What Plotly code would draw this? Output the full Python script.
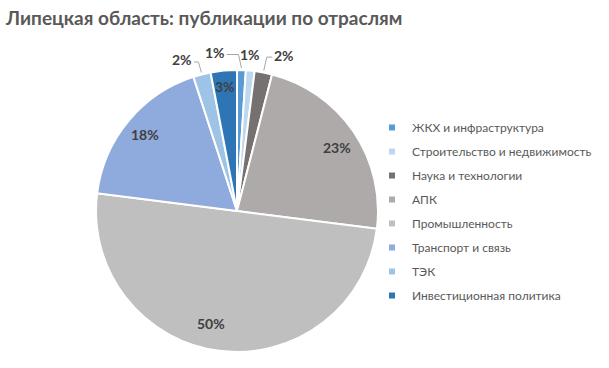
import math
import plotly.graph_objects as go

labels = ["ЖКХ и инфраструктура", "Строительство и недвижимость", "Наука и технологии",
          "АПК", "Промышленность", "Транспорт и связь", "ТЭК", "Инвестиционная политика"]
values = [1, 1, 2, 23, 50, 18, 2, 3]
colors = ["#5B9BD5", "#BDD7EE", "#767171", "#AEAAAA", "#BFBFBF", "#8FAADC", "#9DC3E6", "#2E75B6"]

# label styling: (angle nudge in degrees from slice middle, radius as fraction of R)
inside_style = {"АПК": (2.0, 0.84), "Промышленность": (6.0, 0.82),
                "Транспорт и связь": (0.0, 0.85), "Инвестиционная политика": (0.0, 0.89)}
outside_style = {"ЖКХ и инфраструктура": (-9.8, 1.135), "Строительство и недвижимость": (-0.6, 1.115),
                 "Наука и технологии": (6.0, 1.155), "ТЭК": (-5.6, 1.14)}
leader = {"ЖКХ и инфраструктура": True, "Строительство и недвижимость": False,
          "Наука и технологии": True, "ТЭК": True}

W, H = 609, 368
CX, CY, R = 237, 211, 141          # pie geometry in pixels
FONT = "Lato"


def px(x):
    return x / W


def py(y):
    return 1 - y / H


fig = go.Figure()
fig.add_trace(go.Pie(
    labels=labels, values=values, sort=False, direction="clockwise", rotation=0,
    marker=dict(colors=colors, line=dict(color="white", width=2)),
    textinfo="none", hoverinfo="label+percent", showlegend=False,
    domain=dict(x=[px(CX - R), px(CX + R)], y=[py(CY + R), py(CY - R)]),
))

# legend entries
for lab, col in zip(labels, colors):
    fig.add_trace(go.Scatter(x=[None], y=[None], mode="markers", name=lab,
                             legendgroup=lab,
                             marker=dict(symbol="square", size=6, color=col)))

total = sum(values)
annotations = []
shapes = []
cum = 0.0
for lab, v in zip(labels, values):
    mid = (cum + v / 2) / total * 360.0
    cum += v
    text = f"<b>{round(v / total * 100)}%</b>"
    inside = lab in inside_style
    nudge, rf = inside_style[lab] if inside else outside_style[lab]
    ang = math.radians(mid + nudge)
    x = CX + rf * R * math.sin(ang)
    y = CY - rf * R * math.cos(ang)
    annotations.append(dict(x=px(x), y=py(y), xref="paper", yref="paper",
                            text=text, showarrow=False,
                            xanchor="center", yanchor="middle",
                            font=dict(family=FONT, size=14, color="#404040")))
    if not inside and leader[lab]:
        a0 = math.radians(mid)
        sx = CX + (R + 2) * math.sin(a0)
        sy = CY - (R + 2) * math.cos(a0)
        side = -1 if x < sx else 1
        ex = sx + side * 3
        ey = y + 2
        lx = x - side * 12
        shapes.append(dict(type="path", xref="paper", yref="paper",
                           path=f"M {px(sx)} {py(sy)} L {px(ex)} {py(ey)} L {px(lx)} {py(ey)}",
                           line=dict(color="#A6A6A6", width=1)))

fig.update_layout(
    width=W, height=H,
    margin=dict(l=0, r=0, t=0, b=0),
    paper_bgcolor="white", plot_bgcolor="white",
    xaxis=dict(visible=False), yaxis=dict(visible=False),
    title=dict(text="<b>Липецкая область: публикации по отраслям</b>",
               x=px(6), xanchor="left", y=py(18), yanchor="middle",
               font=dict(family=FONT, size=19, color="#595959")),
    legend=dict(x=px(372), y=py(113), xanchor="left", yanchor="top",
                bgcolor="rgba(0,0,0,0)",
                tracegroupgap=5, itemsizing="trace",
                font=dict(family=FONT, size=12, color="#595959")),
    annotations=annotations, shapes=shapes,
)
fig.write_html("out.html", config={"displayModeBar": False},
               post_script="document.body.style.margin='0';")
